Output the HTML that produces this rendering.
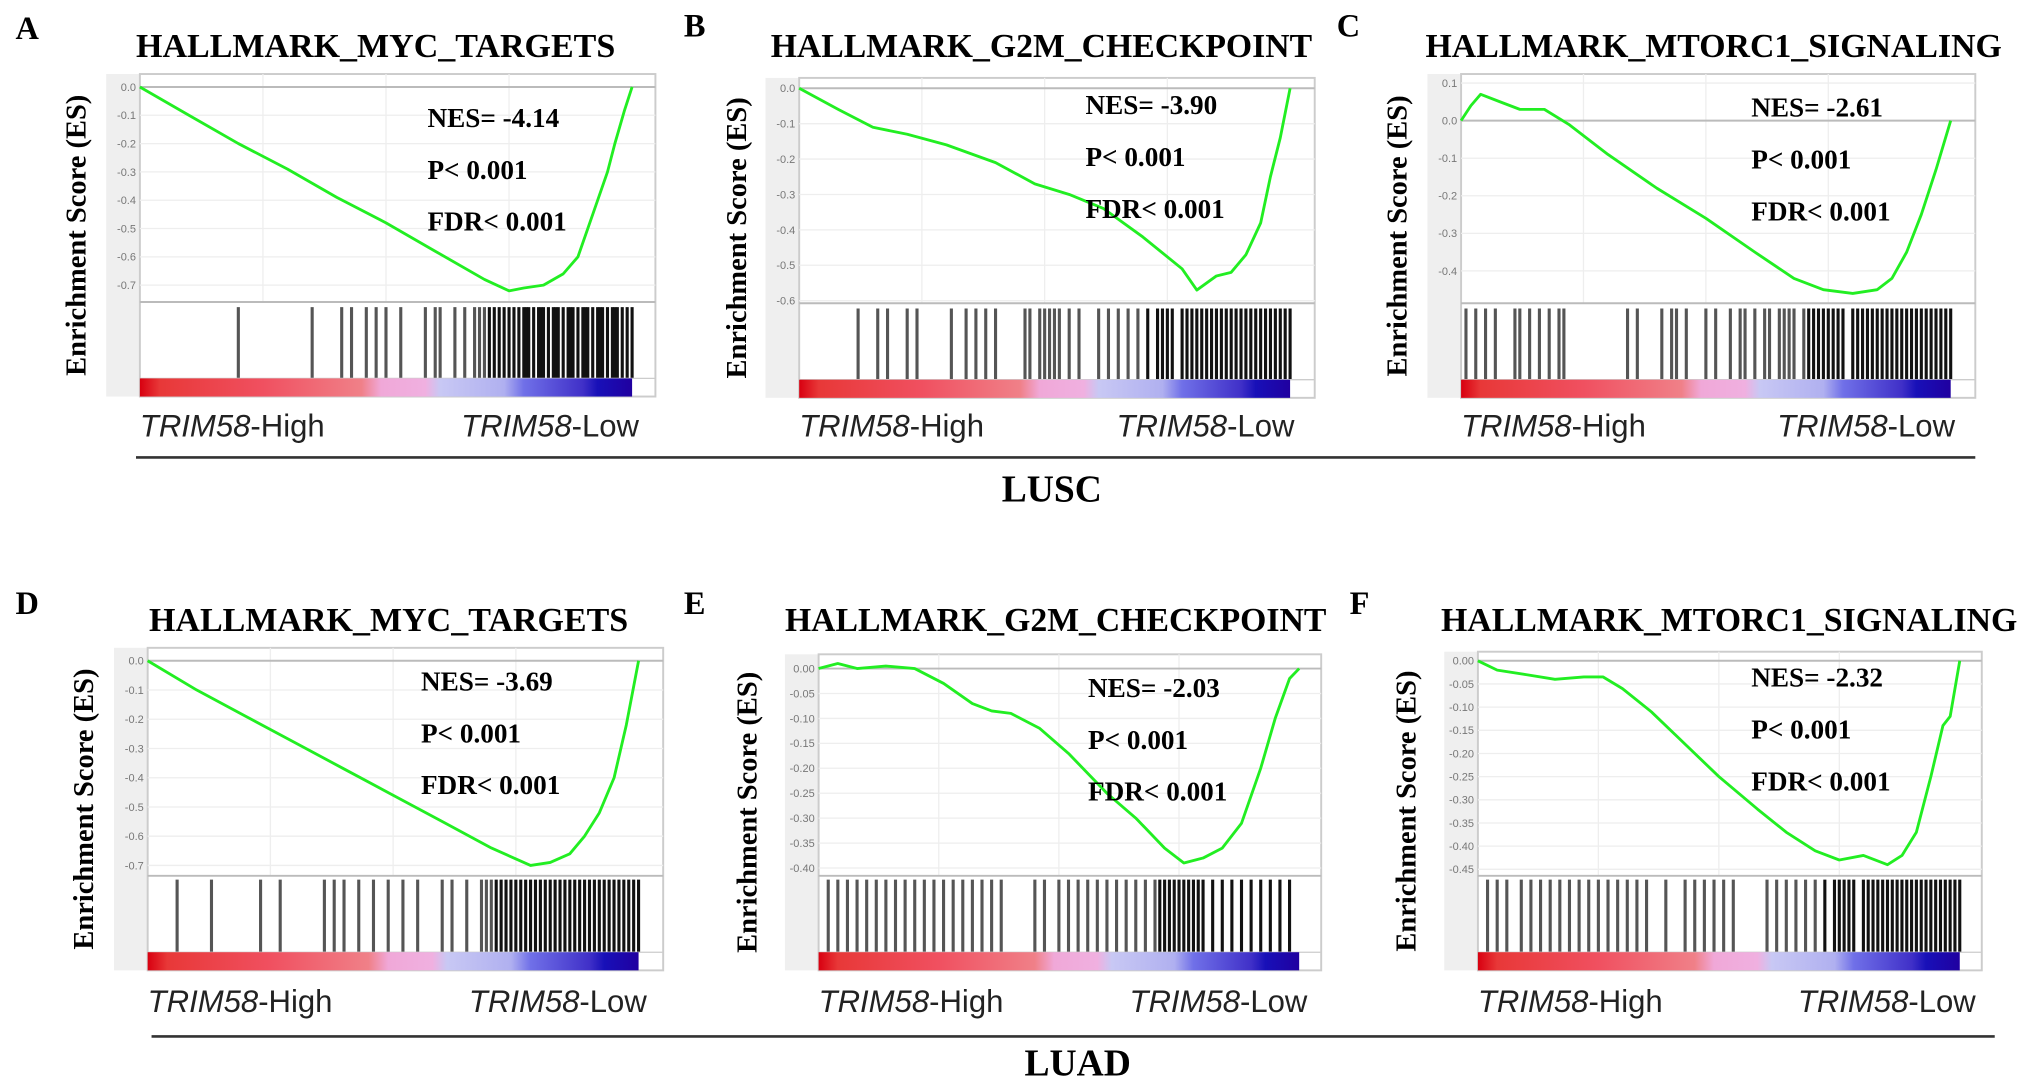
<!DOCTYPE html>
<html><head><meta charset="utf-8">
<style>
html,body{margin:0;padding:0;background:#fff;}
svg{display:block;}
.ttl{font-family:"Liberation Serif",serif;font-weight:bold;}
.sans{font-family:"Liberation Sans",sans-serif;}
</style></head>
<body>
<svg id="fig" width="2031" height="1091" viewBox="0 0 1568 842" xmlns="http://www.w3.org/2000/svg">
<defs>
<linearGradient id="rank" x1="0" x2="1" y1="0" y2="0">
<stop offset="0" stop-color="#d80010"/><stop offset="0.04" stop-color="#e83838"/>
<stop offset="0.25" stop-color="#f05060"/><stop offset="0.45" stop-color="#f08088"/>
<stop offset="0.49" stop-color="#f0a8d8"/><stop offset="0.58" stop-color="#f0b0e0"/>
<stop offset="0.61" stop-color="#c8c8f4"/><stop offset="0.74" stop-color="#b0b0f0"/>
<stop offset="0.78" stop-color="#7070e8"/><stop offset="0.9" stop-color="#4030c8"/>
<stop offset="0.93" stop-color="#1810b8"/><stop offset="1" stop-color="#2000a0"/>
</linearGradient>
</defs>
<g id="panels"></g>
<line x1="105" y1="353" x2="1525" y2="353" stroke="#333" stroke-width="2"/>
<text class="ttl" x="812" y="387" font-size="29" text-anchor="middle">LUSC</text>
<line x1="117" y1="800" x2="1540" y2="800" stroke="#333" stroke-width="2"/>
<text class="ttl" x="832" y="830" font-size="29" text-anchor="middle">LUAD</text>
</svg>
<script>
// ---- data ----
const curveA_x = [0,0.1,0.2,0.3,0.4,0.5,0.6,0.7,0.75,0.78,0.82,0.86,0.89,0.92,0.95,0.965,0.985,1];
const curveA_es = [0,-0.1,-0.2,-0.29,-0.39,-0.48,-0.58,-0.68,-0.72,-0.71,-0.7,-0.66,-0.6,-0.45,-0.3,-0.2,-0.08,0];
const curveB_x = [0,0.08,0.15,0.22,0.3,0.4,0.48,0.55,0.62,0.7,0.78,0.81,0.85,0.88,0.91,0.94,0.96,0.98,1];
const curveB_es = [0,-0.06,-0.11,-0.13,-0.16,-0.21,-0.27,-0.3,-0.34,-0.42,-0.51,-0.57,-0.53,-0.52,-0.47,-0.38,-0.25,-0.14,0];
const curveC_x = [0,0.02,0.04,0.08,0.12,0.17,0.22,0.3,0.4,0.5,0.6,0.68,0.74,0.8,0.85,0.88,0.91,0.94,0.97,1];
const curveC_es = [0,0.04,0.07,0.05,0.03,0.03,-0.01,-0.09,-0.18,-0.26,-0.35,-0.42,-0.45,-0.46,-0.45,-0.42,-0.35,-0.25,-0.13,0];
const curveD_x = [0,0.1,0.2,0.3,0.4,0.5,0.6,0.7,0.78,0.82,0.86,0.89,0.92,0.95,0.975,1];
const curveD_es = [0,-0.1,-0.19,-0.28,-0.37,-0.46,-0.55,-0.64,-0.7,-0.69,-0.66,-0.6,-0.52,-0.4,-0.22,0];
const curveE_x = [0,0.04,0.08,0.14,0.2,0.26,0.32,0.36,0.4,0.46,0.52,0.6,0.66,0.72,0.76,0.8,0.84,0.88,0.92,0.95,0.98,1];
const curveE_es = [0,0.01,0,0.005,0,-0.03,-0.07,-0.085,-0.09,-0.12,-0.17,-0.25,-0.3,-0.36,-0.39,-0.38,-0.36,-0.31,-0.2,-0.1,-0.02,0];
const curveF_x = [0,0.04,0.1,0.16,0.22,0.26,0.3,0.36,0.42,0.5,0.58,0.64,0.7,0.75,0.8,0.85,0.88,0.91,0.94,0.965,0.98,1];
const curveF_es = [0,-0.02,-0.03,-0.04,-0.035,-0.035,-0.06,-0.11,-0.17,-0.25,-0.32,-0.37,-0.41,-0.43,-0.42,-0.44,-0.42,-0.37,-0.25,-0.14,-0.12,0];

const hitsA = [0.2,0.35,0.41,0.43,0.46,0.48,0.5,0.53,0.58,0.6,0.61,0.64,0.66,0.68,0.69,0.7,0.71,0.72,0.73,0.74,0.75,0.76,0.77,0.78,0.785,0.79,0.8,0.81,0.815,0.82,0.83,0.84,0.845,0.85,0.86,0.87,0.875,0.88,0.89,0.9,0.905,0.91,0.92,0.93,0.935,0.94,0.95,0.96,0.965,0.97,0.98,0.99,1];
const hitsB = [0.12,0.16,0.18,0.22,0.24,0.31,0.34,0.36,0.38,0.4,0.46,0.47,0.49,0.5,0.51,0.52,0.53,0.55,0.57,0.61,0.63,0.65,0.67,0.69,0.71,0.73,0.74,0.75,0.76,0.78,0.79,0.8,0.81,0.82,0.83,0.84,0.85,0.86,0.87,0.88,0.89,0.9,0.91,0.92,0.93,0.94,0.95,0.96,0.97,0.98,0.99,1];
const hitsC = [0.01,0.03,0.05,0.07,0.11,0.12,0.14,0.16,0.18,0.2,0.21,0.34,0.36,0.41,0.43,0.44,0.46,0.5,0.52,0.55,0.57,0.58,0.6,0.62,0.63,0.65,0.66,0.67,0.68,0.7,0.71,0.72,0.73,0.74,0.75,0.76,0.77,0.78,0.8,0.81,0.82,0.83,0.84,0.85,0.86,0.87,0.88,0.89,0.9,0.91,0.92,0.93,0.94,0.95,0.96,0.97,0.98,0.99,1];
const hitsD = [0.06,0.13,0.23,0.27,0.36,0.38,0.4,0.43,0.46,0.49,0.52,0.55,0.6,0.62,0.65,0.68,0.69,0.7,0.71,0.72,0.73,0.74,0.75,0.76,0.77,0.78,0.79,0.8,0.81,0.82,0.83,0.84,0.85,0.86,0.87,0.88,0.89,0.9,0.91,0.92,0.93,0.94,0.95,0.96,0.97,0.98,0.99,1];
const hitsE = [0.02,0.04,0.06,0.08,0.1,0.12,0.14,0.16,0.18,0.2,0.22,0.24,0.26,0.28,0.3,0.32,0.34,0.36,0.38,0.45,0.47,0.5,0.52,0.54,0.56,0.58,0.6,0.62,0.64,0.66,0.68,0.7,0.71,0.72,0.73,0.74,0.75,0.76,0.77,0.78,0.79,0.8,0.82,0.84,0.86,0.88,0.9,0.92,0.94,0.96,0.98];
const hitsF = [0.02,0.04,0.06,0.09,0.11,0.13,0.15,0.17,0.19,0.21,0.23,0.25,0.27,0.29,0.31,0.33,0.35,0.39,0.43,0.45,0.47,0.49,0.51,0.53,0.6,0.62,0.64,0.66,0.68,0.7,0.72,0.74,0.75,0.76,0.77,0.78,0.8,0.81,0.82,0.83,0.84,0.85,0.86,0.87,0.88,0.89,0.9,0.91,0.92,0.93,0.94,0.95,0.96,0.97,0.98,0.99,1];

const ticksA = [0,-0.1,-0.2,-0.3,-0.4,-0.5,-0.6,-0.7];
const ticksB = [0,-0.1,-0.2,-0.3,-0.4,-0.5,-0.6];
const ticksC = [0.1,0,-0.1,-0.2,-0.3,-0.4];
const ticksD = [0,-0.1,-0.2,-0.3,-0.4,-0.5,-0.6,-0.7];
const ticksE = [0,-0.05,-0.1,-0.15,-0.2,-0.25,-0.3,-0.35,-0.4];
const ticksF = [0,-0.05,-0.1,-0.15,-0.2,-0.25,-0.3,-0.35,-0.4,-0.45];
const titles = ["HALLMARK_MYC_TARGETS","HALLMARK_G2M_CHECKPOINT","HALLMARK_MTORC1_SIGNALING","HALLMARK_MYC_TARGETS","HALLMARK_G2M_CHECKPOINT","HALLMARK_MTORC1_SIGNALING"];
const nesValues = ["-4.14","-3.90","-2.61","-3.69","-2.03","-2.32"];

// ---- layout ----
const panels = [
 {id:'a',L:'A',lx:12,ly:30,tx:290,ty:44,tw:370,x0:108,x1:488,fr:506,top:57,yTop:0,yTopPx:67,yBot:-0.7,yBotPx:220,esBot:233,barTop:237,cb:292,yl:66,sx:330,sy:98,ly2:337,lo:356,cx:curveA_x,ce:curveA_es,h:hitsA,t:ticksA,dec:1},
 {id:'b',L:'B',lx:528,ly:28,tx:804,ty:44,tw:418,x0:617,x1:996,fr:1015,top:60,yTop:0,yTopPx:68,yBot:-0.6,yBotPx:232,esBot:234,barTop:238,cb:293,yl:576,sx:838,sy:88,ly2:337,lo:862,cx:curveB_x,ce:curveB_es,h:hitsB,t:ticksB,dec:1},
 {id:'c',L:'C',lx:1032,ly:28,tx:1323,ty:44,tw:445,x0:1128,x1:1506,fr:1525,top:57,yTop:0.1,yTopPx:64,yBot:-0.4,yBotPx:209,esBot:234,barTop:238,cb:293,yl:1086,sx:1352,sy:90,ly2:337,lo:1372,cx:curveC_x,ce:curveC_es,h:hitsC,t:ticksC,dec:1},
 {id:'d',L:'D',lx:12,ly:474,tx:300,ty:487,tw:370,x0:114,x1:493,fr:512,top:500,yTop:0,yTopPx:510,yBot:-0.7,yBotPx:668,esBot:676,barTop:679,cb:735,yl:72,sx:325,sy:533,ly2:781,lo:362,cx:curveD_x,ce:curveD_es,h:hitsD,t:ticksD,dec:1},
 {id:'e',L:'E',lx:528,ly:474,tx:815,ty:487,tw:418,x0:632,x1:1003,fr:1020,top:505,yTop:0,yTopPx:516,yBot:-0.4,yBotPx:670,esBot:676,barTop:679,cb:735,yl:584,sx:840,sy:538,ly2:781,lo:872,cx:curveE_x,ce:curveE_es,h:hitsE,t:ticksE,dec:2},
 {id:'f',L:'F',lx:1042,ly:474,tx:1335,ty:487,tw:445,x0:1141,x1:1513,fr:1530,top:503,yTop:0,yTopPx:510,yBot:-0.45,yBotPx:671,esBot:676,barTop:679,cb:735,yl:1093,sx:1352,sy:530,ly2:781,lo:1388,cx:curveF_x,ce:curveF_es,h:hitsF,t:ticksF,dec:2}
];
const NS='http://www.w3.org/2000/svg';
const root=document.getElementById('panels');
function mk(tag,attrs,parent,text){const e=document.createElementNS(NS,tag);for(const k in attrs)e.setAttribute(k,attrs[k]);if(text!==undefined)e.textContent=text;parent.appendChild(e);return e;}

panels.forEach((p,i)=>{
 const g=mk('g',{},root);
 
 
 const xs=f=>p.x0+f*(p.x1-p.x0);
 const ys=v=>p.yTopPx+(v-p.yTop)/(p.yBot-p.yTop)*(p.yBotPx-p.yTopPx);
 const bot=p.cb+14;
 const gs=mk('rect',{x:p.x0-26,y:p.top,width:26,height:bot-p.top,fill:'#efefef'},g);
 
 
 const fr=mk('rect',{x:p.x0,y:p.top,width:p.fr-p.x0,height:bot-p.top,fill:'#fff',stroke:'#ccc','stroke-width':1.5},g);
 
 
 [0.25,0.5,0.75].forEach(f=>{mk('line',{x1:xs(f),x2:xs(f),y1:p.top,y2:p.esBot,stroke:'#eee'},g);});
 p.t.forEach(v=>{
  const gl=mk('line',{x1:p.x0,x2:p.fr,y1:ys(v),y2:ys(v),stroke:v===0?'#bbb':'#eee','stroke-width':v===0?1.5:1},g);
  
  
  const tl=mk('text',{x:p.x0-3,y:ys(v)+3,'font-size':8.5,fill:'#777','text-anchor':'end',class:'sans'},g,v.toFixed(p.dec));
  
  
 });
 mk('line',{x1:p.x0,x2:p.fr,y1:p.esBot,y2:p.esBot,stroke:'#bbb','stroke-width':1.5},g);
 p.h.forEach(f=>{
  const hl=mk('line',{x1:xs(f),x2:xs(f),y1:p.barTop,y2:p.cb,stroke:f>0.7?'#111':'#555','stroke-width':2.4},g);
  
  
 });
 mk('line',{x1:p.x0,x2:p.fr,y1:p.cb,y2:p.cb,stroke:'#ccc'},g);
 const rb=mk('rect',{x:p.x0,y:p.cb,width:p.x1-p.x0,height:14,fill:'url(#rank)'},g);
 
 
 const d=p.cx.map((f,k)=>(k?'L':'M')+xs(f).toFixed(1)+','+ys(p.ce[k]).toFixed(1)).join(' ');
 const c=mk('path',{d:d,fill:'none',stroke:'#22ee22','stroke-width':2.2,'stroke-linejoin':'round'},g);
 
 
 const L=mk('text',{x:p.lx,y:p.ly,'font-size':25,class:'ttl'},g,p.L);
 
 
 const T=mk('text',{x:p.tx,y:p.ty,'font-size':26,class:'ttl','text-anchor':'middle',textLength:p.tw,lengthAdjust:'spacingAndGlyphs'},g,titles[i]);
 
 
 const yc=(p.top+bot)/2;
 const Y=mk('text',{x:p.yl,y:yc,'font-size':22,class:'ttl','text-anchor':'middle',transform:'rotate(-90 '+p.yl+' '+yc+')'},g,'Enrichment Score (ES)');
 
 
 ['NES= '+nesValues[i],'P< 0.001','FDR< 0.001'].forEach((s,k)=>{
  const st=mk('text',{x:p.sx,y:p.sy+k*40,'font-size':21,class:'ttl'},g,s);
  
  
 });
 const hi=mk('text',{x:p.x0,y:p.ly2,'font-size':24,class:'sans',fill:'#222'},g);
 
 
 mk('tspan',{'font-style':'italic'},hi,'TRIM58');mk('tspan',{},hi,'-High');
 const lo=mk('text',{x:p.lo,y:p.ly2,'font-size':24,class:'sans',fill:'#222'},g);
 
 
 mk('tspan',{'font-style':'italic'},lo,'TRIM58');mk('tspan',{},lo,'-Low');
});
</script>
</body></html>
